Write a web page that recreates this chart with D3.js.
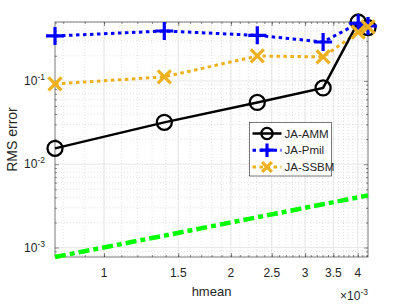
<!DOCTYPE html>
<html>
<head>
<meta charset="utf-8">
<script src="https://cdn.jsdelivr.net/npm/d3@7"></script>
<style>
  body { margin: 0; background: #fff; }
  text { font-family: "Liberation Sans", Arial, sans-serif; fill: #262626; }
</style>
</head>
<body>
<div id="chart"></div>
<script>
// data
var hmean = [0.765e-3, 1.39e-3, 2.31e-3, 3.31e-3, 4.01e-3, 4.23e-3]
var ammErr = [0.0155, 0.0318, 0.0551, 0.0824, 0.509, 0.436]
var pmilErr = [0.346, 0.397, 0.352, 0.293, 0.491, 0.456]
var ssbmErr = [0.092, 0.1117, 0.199, 0.194, 0.386, 0.444]
var refErr = [0.77e-3, 1.39e-3, 2.31e-3, 3.31e-3, 4.01e-3, 4.23e-3]
var xTicks = [1e-3, 1.5e-3, 2e-3, 2.5e-3, 3e-3, 3.5e-3, 4e-3]
var yTicks = [1e-3, 1e-2, 1e-1]
var seriesNames = ["JA-AMM", "JA-Pmil", "JA-SSBM"]

var W = 407, H = 305
var margin = { top: 22, right: 39, bottom: 48, left: 55 }
var width = W - margin.left - margin.right,
    height = H - margin.top - margin.bottom

var svg = d3.select("#chart").append("svg")
    .attr("width", W).attr("height", H)

var g = svg.append("g")
    .attr("transform", "translate(" + margin.left + "," + margin.top + ")")

var x = d3.scaleLog().domain([hmean[0], hmean[hmean.length - 1]]).range([0, width])
var y = d3.scaleLog().domain([7.7e-4, 0.509]).range([height, 0])

// minor tick positions
var xMinor = d3.range(8, 43).map(d => d * 1e-4).filter(d => d >= x.domain()[0] && d <= x.domain()[1])
var yMinor = []
;[1e-4, 1e-3, 1e-2, 1e-1].forEach(dec => {
  for (var k = 2; k <= 9; k++) {
    var v = dec * k
    if (v >= y.domain()[0] && v <= y.domain()[1]) yMinor.push(v)
  }
})

// grid
g.selectAll(".xminor").data(xMinor).enter().append("line")
    .attr("x1", d => x(d)).attr("x2", d => x(d)).attr("y1", 0).attr("y2", height)
    .attr("stroke", "#cfcfcf").attr("stroke-width", 0.6).attr("stroke-dasharray", "1,2")
g.selectAll(".yminor").data(yMinor).enter().append("line")
    .attr("y1", d => y(d)).attr("y2", d => y(d)).attr("x1", 0).attr("x2", width)
    .attr("stroke", "#cfcfcf").attr("stroke-width", 0.6).attr("stroke-dasharray", "1,2")
g.selectAll(".xmajor").data(xTicks).enter().append("line")
    .attr("x1", d => x(d)).attr("x2", d => x(d)).attr("y1", 0).attr("y2", height)
    .attr("stroke", "#e2e2e2").attr("stroke-width", 0.8)
g.selectAll(".ymajor").data(yTicks).enter().append("line")
    .attr("y1", d => y(d)).attr("y2", d => y(d)).attr("x1", 0).attr("x2", width)
    .attr("stroke", "#e2e2e2").attr("stroke-width", 0.8)

// axes (ticks inward, on all four sides)
var axisColor = "#404040"
function styleAxis(sel) {
  sel.select(".domain").remove()
  sel.selectAll("line").attr("stroke", axisColor).attr("stroke-width", 0.6)
  sel.selectAll("text").remove()
}
g.append("g").attr("transform", "translate(0," + height + ")")
    .call(d3.axisBottom(x).tickValues(xTicks).tickSize(-4)).call(styleAxis)
g.append("g").attr("transform", "translate(0," + height + ")")
    .call(d3.axisBottom(x).tickValues(xMinor).tickSize(-2)).call(styleAxis)
g.append("g")
    .call(d3.axisTop(x).tickValues(xTicks).tickSize(-4)).call(styleAxis)
g.append("g")
    .call(d3.axisTop(x).tickValues(xMinor).tickSize(-2)).call(styleAxis)
g.append("g")
    .call(d3.axisLeft(y).tickValues(yTicks).tickSize(-4)).call(styleAxis)
g.append("g")
    .call(d3.axisLeft(y).tickValues(yMinor).tickSize(-2)).call(styleAxis)
g.append("g").attr("transform", "translate(" + width + ",0)")
    .call(d3.axisRight(y).tickValues(yTicks).tickSize(-4)).call(styleAxis)
g.append("g").attr("transform", "translate(" + width + ",0)")
    .call(d3.axisRight(y).tickValues(yMinor).tickSize(-2)).call(styleAxis)

g.append("rect").attr("width", width).attr("height", height)
    .attr("fill", "none").attr("stroke", axisColor).attr("stroke-width", 0.7)

// tick labels
g.selectAll(".xlab").data(xTicks).enter().append("text")
    .attr("x", d => x(d)).attr("y", height + 20)
    .attr("text-anchor", "middle").style("font-size", "12px")
    .text(d => d3.format("~g")(d * 1e3))
var yl = g.selectAll(".ylab").data(yTicks).enter().append("text")
    .attr("x", -10).attr("y", d => y(d) + 4)
    .attr("text-anchor", "end").style("font-size", "12px")
yl.append("tspan").text("10")
yl.append("tspan").attr("dy", -5).style("font-size", "8.5px").text(d => Math.round(Math.log10(d)))

var ex = g.append("text").attr("x", width).attr("y", height + 43)
    .attr("text-anchor", "end").style("font-size", "12px")
ex.append("tspan").text("\u00d710")
ex.append("tspan").attr("dy", -5).style("font-size", "8.5px").text("-3")

// axis labels
g.append("text").attr("x", width / 2).attr("y", height + 39)
    .attr("text-anchor", "middle").style("font-size", "13px").text("hmean")
g.append("text").attr("transform", "translate(-38," + (height / 2) + ") rotate(-90)")
    .attr("text-anchor", "middle").style("font-size", "14px").text("RMS error")

// lines
var plot = g.append("g")
function lineOf(vals) {
  return d3.line().x((d, i) => x(hmean[i])).y(d => y(d))(vals)
}
plot.append("path").attr("d", lineOf(refErr))
    .attr("fill", "none").attr("stroke", "#00ff00").attr("stroke-width", 4.5)
    .attr("stroke-dasharray", "11,4,5,4")
plot.append("path").attr("d", lineOf(ssbmErr))
    .attr("fill", "none").attr("stroke", "#edb120").attr("stroke-width", 3)
    .attr("stroke-dasharray", "3.5,3.5")
plot.append("path").attr("d", lineOf(pmilErr))
    .attr("fill", "none").attr("stroke", "#0000ff").attr("stroke-width", 3)
    .attr("stroke-dasharray", "3.5,3.5")
plot.append("path").attr("d", lineOf(ammErr))
    .attr("fill", "none").attr("stroke", "#000").attr("stroke-width", 2.5)

// markers
function circleMark(sel, cx, cy, k) {
  k = k || 1
  sel.append("circle").attr("cx", cx).attr("cy", cy).attr("r", 7.5 * k)
      .attr("fill", "none").attr("stroke", "#000").attr("stroke-width", 2.3)
}
function plusMark(sel, cx, cy, k) {
  var s = 9 * (k || 1)
  sel.append("path").attr("d", "M" + (cx - s) + "," + cy + "H" + (cx + s) + "M" + cx + "," + (cy - s) + "V" + (cy + s))
      .attr("stroke", "#0000ff").attr("stroke-width", 3.2).attr("fill", "none")
}
function crossMark(sel, cx, cy, k) {
  var s = 6.5 * (k || 1)
  sel.append("path").attr("d", "M" + (cx - s) + "," + (cy - s) + "L" + (cx + s) + "," + (cy + s) + "M" + (cx - s) + "," + (cy + s) + "L" + (cx + s) + "," + (cy - s))
      .attr("stroke", "#edb120").attr("stroke-width", 3.2).attr("fill", "none")
}
ammErr.forEach((d, i) => circleMark(plot, x(hmean[i]), y(d)))
pmilErr.forEach((d, i) => plusMark(plot, x(hmean[i]), y(d)))
ssbmErr.forEach((d, i) => crossMark(plot, x(hmean[i]), y(d)))

// legend
var lg = svg.append("g").attr("transform", "translate(249.5,122.5)")
lg.append("rect").attr("width", 82).attr("height", 53.5)
    .attr("fill", "#fff").attr("stroke", axisColor).attr("stroke-width", 0.7)
var legendStyles = [
  { color: "#000", dash: null, w: 2.5, mark: circleMark },
  { color: "#0000ff", dash: "3.5,3.5", w: 3, mark: plusMark },
  { color: "#edb120", dash: "3.5,3.5", w: 3, mark: crossMark }
]
seriesNames.forEach((name, i) => {
  var ly = 11 + i * 16.7
  var st = legendStyles[i]
  lg.append("line").attr("x1", 3).attr("x2", 32).attr("y1", ly).attr("y2", ly)
      .attr("stroke", st.color).attr("stroke-width", st.w)
      .attr("stroke-dasharray", st.dash)
  st.mark(lg, 17.5, ly, 0.75)
  lg.append("text").attr("x", 35).attr("y", ly + 4)
      .style("font-size", "11.5px").text(name)
})
</script>
</body>
</html>
